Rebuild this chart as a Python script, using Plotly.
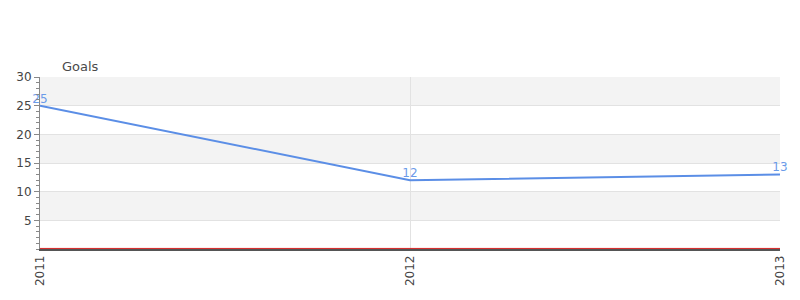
import plotly.graph_objects as go

years = [2011, 2012, 2013]
goals = [25, 12, 13]
y_ticks = [5, 10, 15, 20, 25, 30]

fig = go.Figure()

# alternating horizontal bands behind the plot
for lo in range(0, 30, 5):
    if (lo // 5) % 2 == 1:
        fig.add_shape(type="rect", xref="paper", yref="y", x0=0, x1=1, y0=lo, y1=lo + 5,
                      fillcolor="#f3f3f3", line_width=0, layer="below")

fig.add_trace(go.Scatter(
    x=years, y=goals, mode="lines+text",
    text=[str(v) for v in goals], textposition="top center",
    textfont=dict(color="#6b9be9", size=12, family="DejaVu Sans"),
    line=dict(color="#5b8ee6", width=2),
    cliponaxis=False, hoverinfo="x+y", showlegend=False,
))

# thin red baseline resting on the axis line
fig.add_shape(type="line", xref="paper", yref="y", x0=0, x1=1, y0=0.1, y1=0.1,
              line=dict(color="#d42020", width=1), layer="above")

fig.update_layout(
    width=800, height=300,
    margin=dict(l=40, r=20, t=77, b=51),
    plot_bgcolor="white", paper_bgcolor="white",
    font=dict(family="DejaVu Sans", color="#444", size=12),
    annotations=[dict(text="Goals", xref="paper", yref="paper", x=0.055, y=1.005,
                      xanchor="center", yanchor="bottom", showarrow=False,
                      font=dict(size=13, color="#4a4a4a"))],
)

fig.update_xaxes(
    range=[2011, 2013], tickvals=years, ticktext=[str(y) for y in years],
    tickangle=-90, showgrid=True, gridcolor="#e2e2e2", zeroline=False,
    showline=True, linecolor="#555", linewidth=1.5, ticks="", mirror=False,
    tickfont=dict(size=12, color="#444"),
)
fig.update_yaxes(
    range=[0, 30], tickvals=y_ticks, showgrid=True, gridcolor="#e2e2e2",
    zeroline=False, showline=True, linecolor="#888", linewidth=1,
    ticks="outside", ticklen=5, tickcolor="#888",
    minor=dict(dtick=1, tick0=0, ticks="outside", ticklen=3, tickcolor="#888", showgrid=False),
    tickfont=dict(size=12, color="#444"),
)

fig.write_html("out.html")
